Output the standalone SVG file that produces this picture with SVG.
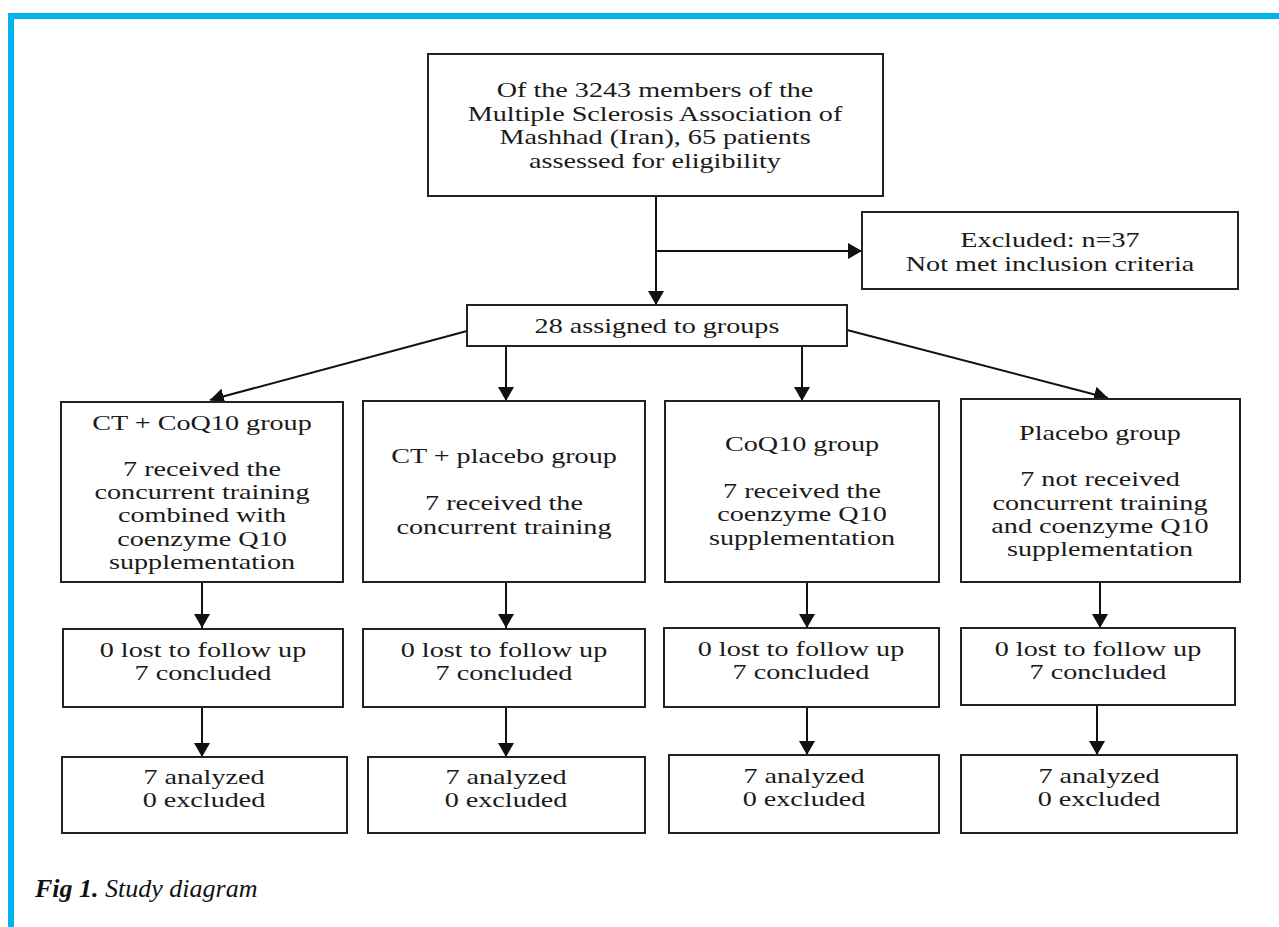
<svg xmlns="http://www.w3.org/2000/svg" width="1279" height="927" viewBox="0 0 1279 927">
<style>
  .box { fill: #ffffff; stroke: #222222; stroke-width: 2; }
  .t { font-family: "Liberation Serif", "Times New Roman", serif; font-size: 21.5px; fill: #1a1a1a; text-anchor: middle; }
  .link { stroke: #111111; stroke-width: 2; fill: none; marker-end: url(#arrow); }
  .plain { stroke: #111111; stroke-width: 2; fill: none; }
  .cap { font-family: "Liberation Serif", "Times New Roman", serif; font-size: 26px; fill: #111111; font-style: italic; }
</style>
<defs>
  <marker id="arrow" markerUnits="userSpaceOnUse" markerWidth="14" markerHeight="16" refX="14" refY="8" orient="auto">
    <path d="M0,0 L14,8 L0,16 Z" fill="#111111"/>
  </marker>
</defs>
<rect x="0" y="0" width="1279" height="927" fill="#ffffff"/>
<g id="frame">
  <rect x="8" y="13" width="1271" height="6" fill="#00B3F0"/>
  <rect x="8" y="13" width="6" height="914" fill="#00B3F0"/>
</g>

<g id="connectors">
  <line class="link" x1="656" y1="196" x2="656" y2="305"/>
  <line class="link" x1="656" y1="251" x2="862" y2="251"/>
  <line class="link" x1="467" y1="331" x2="210" y2="400"/>
  <line class="link" x1="506" y1="346" x2="506" y2="401"/>
  <line class="link" x1="802" y1="346" x2="802" y2="401"/>
  <line class="link" x1="847" y1="330" x2="1108" y2="398"/>
  <line class="link" x1="202" y1="582" x2="202" y2="628"/>
  <line class="link" x1="506" y1="582" x2="506" y2="628"/>
  <line class="link" x1="807" y1="582" x2="807" y2="628"/>
  <line class="link" x1="1100" y1="582" x2="1100" y2="628"/>
  <line class="link" x1="202" y1="707" x2="202" y2="757"/>
  <line class="link" x1="506" y1="707" x2="506" y2="757"/>
  <line class="link" x1="807" y1="707" x2="807" y2="755"/>
  <line class="link" x1="1097" y1="705" x2="1097" y2="755"/>
</g>

<g id="n-eligibility">
  <rect class="box" x="428" y="54" width="455" height="142"/>
  <g transform="translate(655,0) scale(1.31,1)">
    <text class="t" x="0" y="97">Of the 3243 members of the</text>
    <text class="t" x="0" y="121">Multiple Sclerosis Association of</text>
    <text class="t" x="0" y="144.5">Mashhad (Iran), 65 patients</text>
    <text class="t" x="0" y="168">assessed for eligibility</text>
  </g>
</g>

<g id="n-excluded">
  <rect class="box" x="862" y="212" width="376" height="77"/>
  <g transform="translate(1050,0) scale(1.31,1)">
    <text class="t" x="0" y="247">Excluded: n=37</text>
    <text class="t" x="0" y="271">Not met inclusion criteria</text>
  </g>
</g>

<g id="n-assigned">
  <rect class="box" x="467" y="305" width="380" height="41"/>
  <g transform="translate(657,0) scale(1.31,1)">
    <text class="t" x="0" y="333">28 assigned to groups</text>
  </g>
</g>

<g id="n-g1">
  <rect class="box" x="61" y="402" width="282" height="180"/>
  <g transform="translate(202,0) scale(1.31,1)">
    <text class="t" x="0" y="430">CT + CoQ10 group</text>
    <text class="t" x="0" y="476.5">7 received the</text>
    <text class="t" x="0" y="499.5">concurrent training</text>
    <text class="t" x="0" y="522.5">combined with</text>
    <text class="t" x="0" y="546">coenzyme Q10</text>
    <text class="t" x="0" y="569">supplementation</text>
  </g>
</g>

<g id="n-g2">
  <rect class="box" x="363" y="401" width="282" height="181"/>
  <g transform="translate(504,0) scale(1.31,1)">
    <text class="t" x="0" y="463">CT + placebo group</text>
    <text class="t" x="0" y="510">7 received the</text>
    <text class="t" x="0" y="534">concurrent training</text>
  </g>
</g>

<g id="n-g3">
  <rect class="box" x="665" y="401" width="274" height="181"/>
  <g transform="translate(802,0) scale(1.31,1)">
    <text class="t" x="0" y="451.5">CoQ10 group</text>
    <text class="t" x="0" y="498">7 received the</text>
    <text class="t" x="0" y="521.5">coenzyme Q10</text>
    <text class="t" x="0" y="545">supplementation</text>
  </g>
</g>

<g id="n-g4">
  <rect class="box" x="961" y="399" width="279" height="183"/>
  <g transform="translate(1100,0) scale(1.31,1)">
    <text class="t" x="0" y="440">Placebo group</text>
    <text class="t" x="0" y="486.5">7 not received</text>
    <text class="t" x="0" y="510">concurrent training</text>
    <text class="t" x="0" y="533">and coenzyme Q10</text>
    <text class="t" x="0" y="556">supplementation</text>
  </g>
</g>

<g id="n-f1">
  <rect class="box" x="63" y="629" width="280" height="78"/>
  <g transform="translate(203,0) scale(1.31,1)">
    <text class="t" x="0" y="657">0 lost to follow up</text>
    <text class="t" x="0" y="680">7 concluded</text>
  </g>
</g>
<g id="n-f2">
  <rect class="box" x="363" y="629" width="282" height="78"/>
  <g transform="translate(504,0) scale(1.31,1)">
    <text class="t" x="0" y="657">0 lost to follow up</text>
    <text class="t" x="0" y="680">7 concluded</text>
  </g>
</g>
<g id="n-f3">
  <rect class="box" x="664" y="628" width="275" height="79"/>
  <g transform="translate(801,0) scale(1.31,1)">
    <text class="t" x="0" y="656">0 lost to follow up</text>
    <text class="t" x="0" y="679">7 concluded</text>
  </g>
</g>
<g id="n-f4">
  <rect class="box" x="961" y="628" width="274" height="77"/>
  <g transform="translate(1098,0) scale(1.31,1)">
    <text class="t" x="0" y="656">0 lost to follow up</text>
    <text class="t" x="0" y="679">7 concluded</text>
  </g>
</g>

<g id="n-a1">
  <rect class="box" x="62" y="757" width="285" height="76"/>
  <g transform="translate(204,0) scale(1.31,1)">
    <text class="t" x="0" y="784">7 analyzed</text>
    <text class="t" x="0" y="807">0 excluded</text>
  </g>
</g>
<g id="n-a2">
  <rect class="box" x="368" y="757" width="277" height="76"/>
  <g transform="translate(506,0) scale(1.31,1)">
    <text class="t" x="0" y="784">7 analyzed</text>
    <text class="t" x="0" y="807">0 excluded</text>
  </g>
</g>
<g id="n-a3">
  <rect class="box" x="669" y="755" width="270" height="78"/>
  <g transform="translate(804,0) scale(1.31,1)">
    <text class="t" x="0" y="783">7 analyzed</text>
    <text class="t" x="0" y="806">0 excluded</text>
  </g>
</g>
<g id="n-a4">
  <rect class="box" x="961" y="755" width="276" height="78"/>
  <g transform="translate(1099,0) scale(1.31,1)">
    <text class="t" x="0" y="783">7 analyzed</text>
    <text class="t" x="0" y="806">0 excluded</text>
  </g>
</g>

<g id="caption">
  <text class="cap" x="35" y="897"><tspan font-weight="bold">Fig 1.</tspan> Study diagram</text>
</g>
</svg>
